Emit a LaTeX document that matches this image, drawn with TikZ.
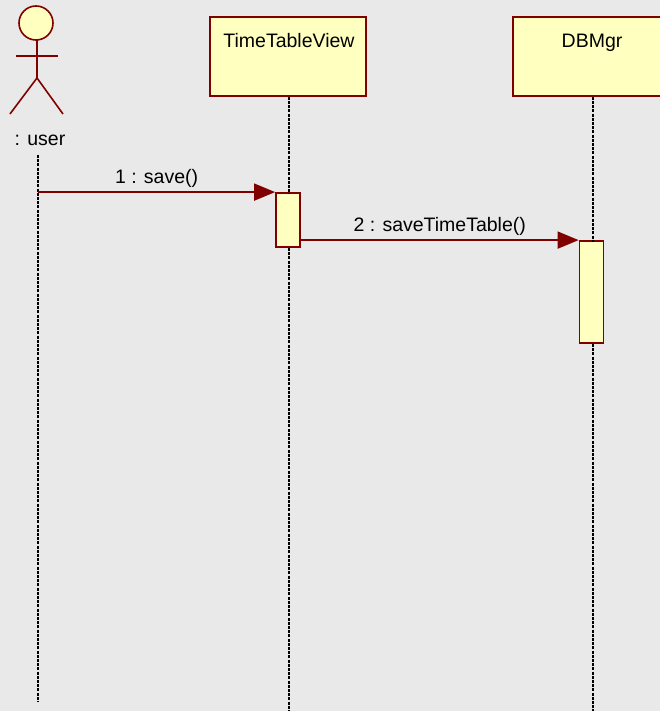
\documentclass[tikz,border=0pt]{standalone}
\usepackage{fontspec}
\setmainfont{Liberation Sans}
\usetikzlibrary{arrows.meta}
\definecolor{umlred}{HTML}{800000}
\definecolor{umlfill}{HTML}{FFFFC0}
\definecolor{umlback}{HTML}{E9E9E9}
\begin{document}
\begin{tikzpicture}[x=1pt,y=-1pt,
	objbox/.style={draw=umlred,fill=umlfill,line width=1.8pt,minimum width=156pt,minimum height=79pt,inner sep=0pt},
	actbox/.style={draw=umlred,fill=umlfill,line width=1.8pt,minimum width=24pt,inner sep=0pt},
	lifeline/.style={black,line width=1.4pt,dash pattern=on 3pt off 1.2pt},
	msg/.style={umlred,line width=1.8pt,-{Triangle[length=21pt,width=17pt]}},
	txt/.style={font=\fontsize{19.5}{22}\selectfont,inner sep=0pt,anchor=base,text=black}]
			\useasboundingbox[fill=umlback] (0,0) rectangle (660,711);
			\clip (0,0) rectangle (660,711);

			% actor
			\begin{scope}[umlred,line width=1.6pt]
			\draw[fill=umlfill] (36,23) circle (17);
			\draw (16,56) -- (58,56);
			\draw (37,40) -- (37,78);
			\draw (10,114) -- (37,78) -- (63,114);
			\end{scope}
			\node[txt] (user) at (40,146) {: user};

			% objetos
			\node[objbox] (view) at (288,56.5) {};
			\node[txt] (viewname) at (289,48) {TimeTableView};
			\node[objbox] (db) at (591,56.5) {};
			\node[txt] (dbname) at (592,48) {DBMgr};

			% activaciones
			\node[actbox,minimum height=54pt] (act1) at (288,220) {};
			\node[actbox,minimum height=102pt] (act2) at (591.5,292) {};

			% lineas de vida
			\coordinate (u1) at (38,155);
			\coordinate (u2) at (38,702);
			\coordinate (v2) at (289,711);
			\coordinate (d2) at (593,711);
			\draw[lifeline] (u1) -- (u2);
			\draw[lifeline] (view.south) ++(1,0) -- ++(0,97);
			\draw[lifeline] (act1.south) ++(1,0) -- (v2);
			\draw[lifeline] (db.south) ++(2,0) -- ++(0,145);
			\draw[lifeline] (act2.south) ++(1.5,0) -- (d2);

			% mensajes
			\draw[msg] (u1 |- act1.north) -- (act1.north west) node[midway,txt,yshift=9pt]{1 : save()};
			\draw[msg] (act1.east |- act2.north) -- (act2.north west) node[midway,txt,yshift=9pt]{2 : saveTimeTable()};
		    \end{tikzpicture}
\end{document}
